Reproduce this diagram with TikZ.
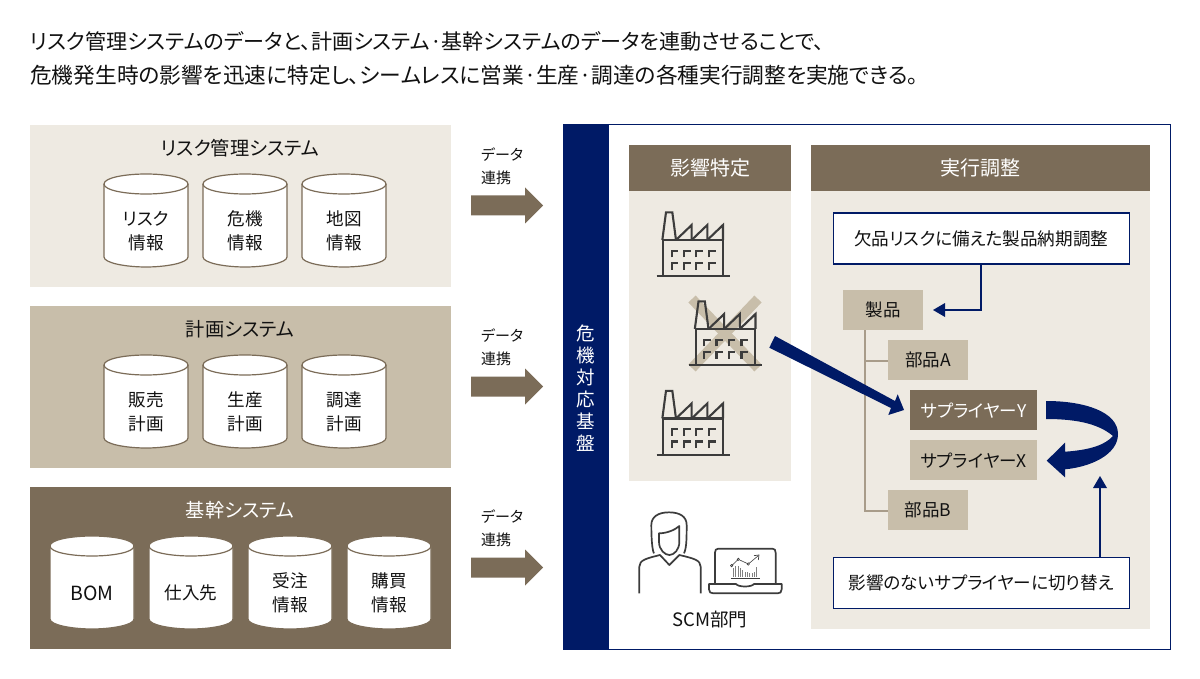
\documentclass[tikz,border=0pt]{standalone}
\usepackage{fontspec}
\setmainfont{Noto Sans CJK JP}[RawFeature={+palt}]
\definecolor{lightp}{HTML}{EEEAE2}
\definecolor{midp}{HTML}{C8BEAA}
\definecolor{darkp}{HTML}{7B6C58}
\definecolor{navy}{HTML}{001A66}
\definecolor{ink}{HTML}{111111}
\definecolor{icon}{HTML}{3C3C3C}
\definecolor{treeline}{HTML}{A89C8A}
\newcommand{\fs}[1]{\fontsize{#1}{#1}\selectfont}
\tikzset{
  headbox/.style={fill=darkp,text=white,font=\fs{20},inner sep=0pt,anchor=north west,minimum height=46pt},
  lab/.style={text=ink,font=\fs{16},inner sep=0pt},
  cyltxt/.style={text=ink,font=\fs{17.6},inner sep=0pt,align=center},
  treebox/.style={fill=midp,text=ink,font=\fs{17.5},inner sep=0pt,anchor=north west,minimum height=40pt},
  notebox/.style={draw=navy,line width=1.6pt,fill=white,text=ink,font=\fs{17.6},inner sep=0pt,anchor=north west,minimum width=296pt,minimum height=51pt},
  thinarrow/.style={draw=navy,line width=1.8pt},
  iconline/.style={draw=icon,line width=1.7pt,line join=round},
  factline/.style={draw=icon,line width=2.1pt,line join=miter}
}
% cylinder: centre x, top y, text
\newcommand{\cyl}[3]{%
  \draw[draw=darkp,line width=1.2pt,fill=white]
    (#1-42,#2+10) .. controls (#1-42,#2+3.5) and (#1-20,#2) .. (#1,#2)
    .. controls (#1+20,#2) and (#1+42,#2+3.5) .. (#1+42,#2+10)
    -- (#1+42,#2+83) .. controls (#1+42,#2+89) and (#1+20,#2+93) .. (#1,#2+93)
    .. controls (#1-20,#2+93) and (#1-42,#2+89) .. (#1-42,#2+83) -- cycle;
  \draw[draw=darkp,line width=1.2pt]
    (#1-42,#2+10) .. controls (#1-42,#2+16.5) and (#1-20,#2+20) .. (#1,#2+20)
    .. controls (#1+20,#2+20) and (#1+42,#2+16.5) .. (#1+42,#2+10);
  \node[cyltxt] (c#1y#2) at (#1,#2+57) {#3};
}
% factory at zoom-origin
\newcommand{\factory}[2]{%
  \begin{scope}[shift={(#1,#2)},x=0.3333pt,y=-0.3333pt]
    \draw[factline] (80,229) -- (300,229);
    \draw[factline] (100,229) -- (100,120) -- (278,120) -- (278,229);
    \draw[factline] (97,120) -- (108,37) -- (127,37) -- (138,120);
    \draw[factline] (138,120) -- (185,75) -- (185,120);
    \draw[factline] (185,120) -- (232,75) -- (232,120);
    \draw[factline] (232,120) -- (279,75) -- (279,120);
    \foreach \wx in {125,162,199,237}{
      \foreach \wy in {152,189}{
        \draw[draw=icon,line width=2.1pt] (\wx,\wy+20) -- (\wx,\wy) -- (\wx+20,\wy);
      }
    }
  \end{scope}
}
\newcommand{\blockarrow}[1]{%
  \fill[darkp] (471,#1-10) -- (525,#1-10) -- (525,#1-18) -- (543,#1) -- (525,#1+18) -- (525,#1+10) -- (471,#1+10) -- cycle;
}
\begin{document}
\begin{tikzpicture}[x=1pt,y=-1pt]
\useasboundingbox (0,0) rectangle (1200,679);
\fill[white] (0,0) rectangle (1200,679);
% title
\node[anchor=west,inner sep=0pt,text=ink,font=\fs{21.05}] (t1) at (30,41) {リスク管理システムのデータと、計画システム·基幹システムのデータを連動させることで、};
\node[anchor=west,inner sep=0pt,text=ink,font=\fs{21.7}] (t2) at (30,75) {危機発生時の影響を迅速に特定し、シームレスに営業·生産·調達の各種実行調整を実施できる。};
% left panels
\fill[lightp] (30,125) rectangle (451,287);
\fill[midp] (30,306) rectangle (451,468);
\fill[darkp] (30,487) rectangle (451,649);
\node[lab,font=\fs{19.2}] (p1) at (240,148) {リスク管理システム};
\node[lab,font=\fs{19.2}] (p2) at (240,329) {計画システム};
\node[lab,font=\fs{19.2},text=white] (p3) at (240,510) {基幹システム};
\cyl{146}{174}{リスク\\[6pt]情報}
\cyl{245}{174}{危機\\[6pt]情報}
\cyl{344}{174}{地図\\[6pt]情報}
\cyl{146}{355}{販売\\[6pt]計画}
\cyl{245}{355}{生産\\[6pt]計画}
\cyl{344}{355}{調達\\[6pt]計画}
\cyl{92}{536}{\fs{19.5}BOM}
\cyl{191}{536}{仕入先}
\cyl{290}{536}{受注\\[6pt]情報}
\cyl{389}{536}{購買\\[6pt]情報}
% data link arrows
\foreach \ya/\yb in {155/205.5,336/386.5,517/567.5}{
  \node[anchor=west,inner sep=0pt,text=ink,font=\fs{15}] at (481,\ya) {データ};
  \node[anchor=west,inner sep=0pt,text=ink,font=\fs{15}] at (481,\ya+22.5) {連携};
  \blockarrow{\yb}
}
% right frame
\draw[draw=navy,line width=1pt,fill=white] (563,125) rectangle (1170,649);
\fill[navy] (563,125) rectangle (609,649);
\node[text=white,font=\fs{18.5},inner sep=0pt,align=center] (bar) at (586,388) {危\\[3.5pt]機\\[3.5pt]対\\[3.5pt]応\\[3.5pt]基\\[3.5pt]盤};
% impact panel
\fill[lightp] (629,145) rectangle (791,481);
\node[headbox,minimum width=162pt] (h1) at (629,145) {影響特定};
% execution panel
\fill[lightp] (811,145) rectangle (1150,629);
\node[headbox,minimum width=339pt] (h2) at (811,145) {実行調整};
% factories
\factory{630}{200}
\draw[midp,line width=10pt] (692,299) -- (758,368);
\draw[midp,line width=10pt] (758,299) -- (692,368);
\factory{662.5}{289}
\factory{630}{378.5}
% tree
\draw[treeline,line width=1.3pt] (865,330) -- (865,511) -- (888,511);
\draw[treeline,line width=1.3pt] (865,361) -- (888,361);
\node[treebox,minimum width=80pt] (prod) at (843,290) {製品};
\node[treebox,minimum width=80pt] (pa) at (888,340) {部品A};
\node[treebox,minimum width=127pt,fill=darkp,text=white] (sy) at (910,390) {サプライヤーY};
\node[treebox,minimum width=127pt] (sx) at (910,440) {サプライヤーX};
\node[treebox,minimum width=80pt] (pb) at (888,490) {部品B};
\node[notebox] (n1) at (832.5,212.5) {欠品リスクに備えた製品納期調整};
\node[notebox] (n2) at (832.5,556.5) {影響のないサプライヤーに切り替え};
% thin arrows
\coordinate (a1tip) at (933,310);
\coordinate (a2tip) at (1100,476);
\draw[thinarrow] (n1.south -| 981,0) -- (981,310) -- (944,310);
\fill[navy] (a1tip) -- (945,303) -- (945,317) -- cycle;
\draw[thinarrow] (n2.north -| a2tip) -- (1100,488);
\fill[navy] (a2tip) -- (1093,488) -- (1107,488) -- cycle;
% big straight arrow
\fill[navy] (775,336) -- (895,401) -- (897.7,394.3) -- (904,410) -- (888.3,415) -- (891,408) -- (769.3,347.7) -- cycle;
% curved arrow
\fill[navy] (1046,401) .. controls (1085,401) and (1118,412) .. (1118,434)
  .. controls (1118,455) and (1090,467) .. (1065,469.3)
  -- (1065,477.3) -- (1046.7,460.7) -- (1065,442.7) -- (1065,451.7)
  .. controls (1090,450) and (1105,445) .. (1113,436)
  .. controls (1100,425) and (1080,419) .. (1046,419) -- cycle;
% person
\begin{scope}[shift={(630,500)},x=0.3333pt,y=-0.3333pt]
  \draw[iconline] (72,160) .. controls (66,150) and (64,110) .. (64,75) .. controls (64,50) and (85,37) .. (117,37)
    .. controls (150,37) and (170,50) .. (170,75) .. controls (170,110) and (170,145) .. (162,160);
  \draw[iconline] (87,100) -- (87,125) .. controls (87,150) and (105,165) .. (118,165) .. controls (132,165) and (148,150) .. (148,125) -- (148,78)
    .. controls (135,90) and (110,100) .. (87,100) -- cycle;
  \draw[iconline] (28,280) -- (28,200) .. controls (28,180) and (50,175) .. (90,165) -- (118,195) -- (148,165)
    .. controls (190,175) and (212,180) .. (212,200) -- (212,280);
  % laptop
  \draw[iconline] (255,250) -- (255,158) .. controls (255,150) and (258,146) .. (265,146) -- (427,146) .. controls (434,146) and (437,150) .. (437,158) -- (437,250);
  \draw[iconline] (237,252) -- (318,252) .. controls (325,262) and (365,262) .. (372,252) -- (455,252) -- (455,268) .. controls (455,277) and (450,280) .. (443,280) -- (250,280) .. controls (242,280) and (237,277) .. (237,268) -- cycle;
  \draw[draw=icon,line width=0.6pt] (305,197) -- (325,178) -- (355,192) -- (385,167);
  \draw[draw=icon,line width=0.7pt] (372,167) -- (387,165) -- (385,180);
  \draw[draw=icon,line width=0.6pt,fill=white] (325,178) circle (3.5) (355,192) circle (3.5) (305,197) circle (3.5);
  \draw[draw=icon,line width=0.8pt] (303,235) -- (390,235);
  \foreach \bx/\bh in {310/205,317/197,324/197,331/205,338/210,345/215,352/215,359/220,366/220,373/215,380/200}{
    \draw[draw=gray,line width=0.8pt] (\bx,230) -- (\bx,\bh);
  }
\end{scope}
\node[lab,font=\fs{18.5}] (scm) at (710,620) {SCM部門};
\end{tikzpicture}
\end{document}
